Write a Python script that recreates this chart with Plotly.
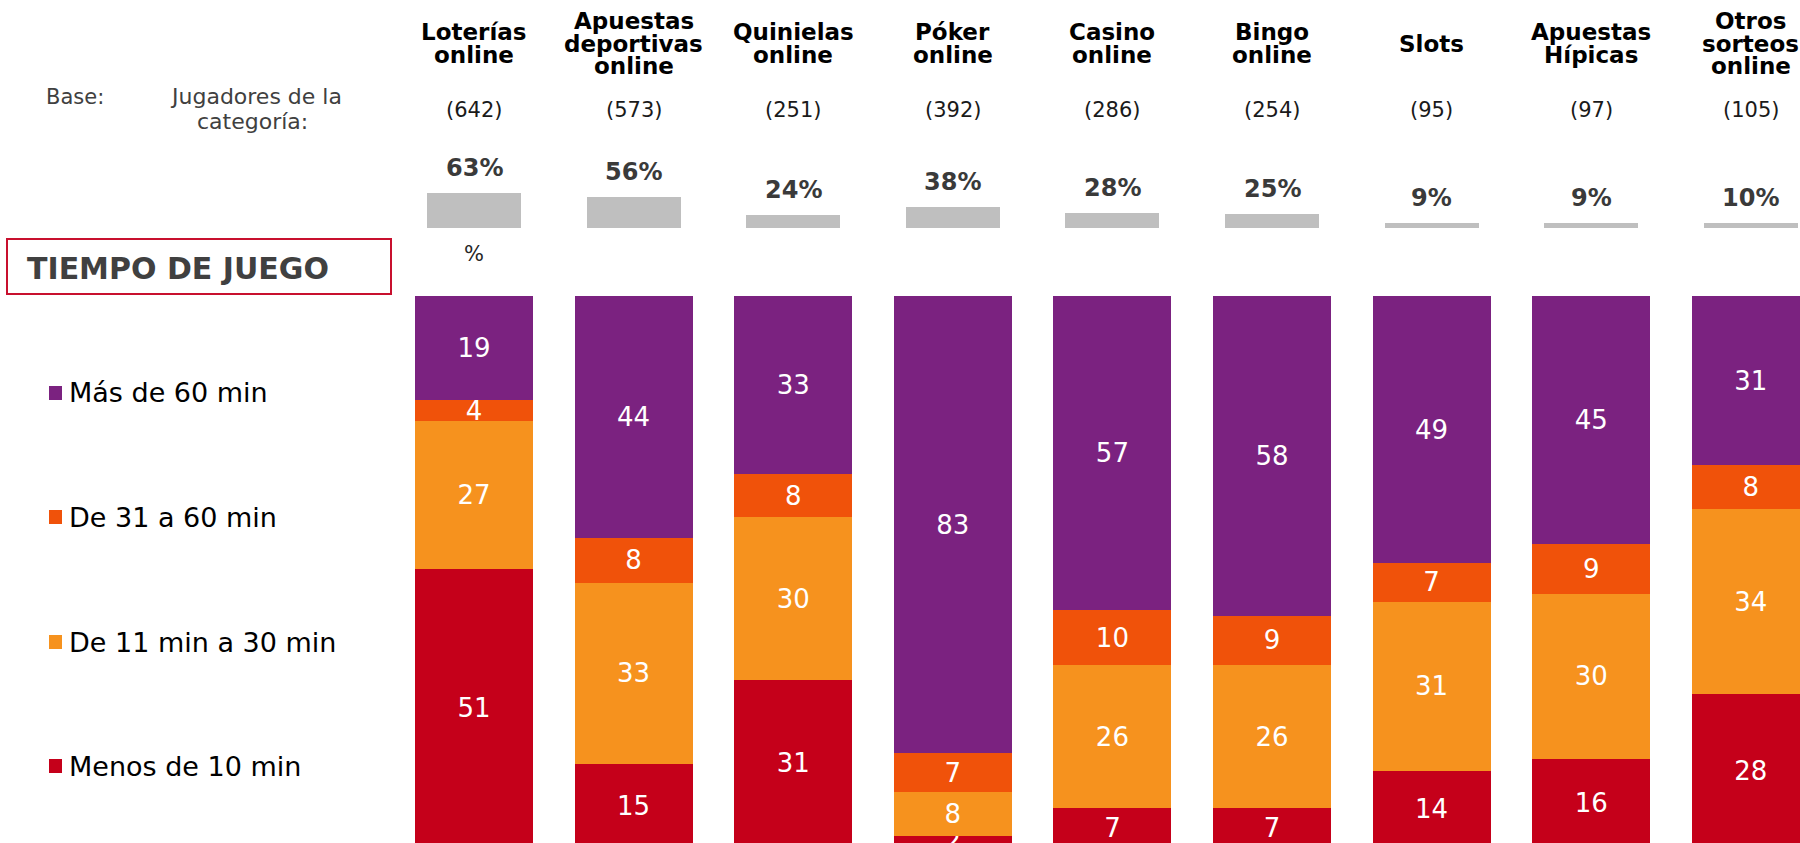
import plotly.graph_objects as go

# ---------------- data ----------------
categories = ["Loterías online", "Apuestas deportivas online", "Quinielas online",
              "Póker online", "Casino online", "Bingo online", "Slots",
              "Apuestas Hípicas", "Otros sorteos online"]
title_labels = ["Loterías<br>online", "Apuestas<br>deportivas<br>online", "Quinielas<br>online",
                "Póker<br>online", "Casino<br>online", "Bingo<br>online", "Slots",
                "Apuestas<br>Hípicas", "Otros<br>sorteos<br>online"]
bases = [642, 573, 251, 392, 286, 254, 95, 97, 105]
penetration = [63, 56, 24, 38, 28, 25, 9, 9, 10]

menos_10 = [51, 15, 31, 2, 7, 7, 14, 16, 28]
de_11_30 = [27, 33, 30, 8, 26, 26, 31, 30, 34]
de_31_60 = [4, 8, 8, 7, 10, 9, 7, 9, 8]
mas_60 = [19, 44, 33, 83, 57, 58, 49, 45, 31]

series_names = ["Menos de 10 min", "De 11 min a 30 min", "De 31 a 60 min", "Más de 60 min"]
series_values = [menos_10, de_11_30, de_31_60, mas_60]
series_colors = ["#C5001A", "#F6921E", "#F0520A", "#7B2280"]

# ---------------- layout constants ----------------
W, H = 1800, 843
X0, PITCH = 474.0, 159.6          # px centre of first bar, spacing
BAR_W, GRAY_W = 118 / PITCH, 94 / PITCH
MAIN_TOP, MAIN_SCALE = 296.0, 5.51  # px of 100%, px per %
GRAY_BASE, GRAY_SCALE = 228.0, 0.55

FONT = "DejaVu Sans"

def py(p):  # pixel-from-top -> paper
    return 1 - p / H

def px(p):
    return p / W

totals = [sum(v) for v in zip(*series_values)]

fig = go.Figure()

for name, vals, col in zip(series_names, series_values, series_colors):
    norm = [v / t * 100 for v, t in zip(vals, totals)]
    fig.add_trace(go.Bar(
        x=categories, y=norm, name=name, width=BAR_W,
        marker=dict(color=col, line=dict(width=0)),
        text=[str(v) for v in vals], texttemplate="%{text}",
        textposition="inside", insidetextanchor="middle", textangle=0,
        constraintext="none",
        textfont=dict(family=FONT, size=26, color="white"),
        hoverinfo="skip", showlegend=False,
    ))

fig.add_trace(go.Bar(
    x=categories, y=penetration, width=GRAY_W, yaxis="y2",
    marker=dict(color="#BFBFBF", line=dict(width=0)),
    hoverinfo="skip", showlegend=False,
))

annotations = []
# penetration labels
for c, p in zip(categories, penetration):
    annotations.append(dict(x=c, y=p, xref="x", yref="y2", yanchor="bottom",
                            yshift=9, text=f"<b>{p}%</b>", showarrow=False,
                            font=dict(family=FONT, size=24, color="#3A3A3A")))
# category titles, line by line
for c, t in zip(categories, title_labels):
    lines = t.split("<br>")
    n = len(lines)
    for j, ln in enumerate(lines):
        yc = 43.5 + (j - (n - 1) / 2) * 22.5
        annotations.append(dict(x=c, y=py(yc), xref="x", yref="paper", yanchor="middle",
                                text=f"<b>{ln}</b>", showarrow=False,
                                font=dict(family=FONT, size=23, color="#000000")))
# bases
for c, b in zip(categories, bases):
    annotations.append(dict(x=c, y=py(110), xref="x", yref="paper", yanchor="middle",
                            text=f"({b})", showarrow=False,
                            font=dict(family=FONT, size=21, color="#1A1A1A")))

annotations += [
    dict(x=px(44), y=py(97), xref="paper", yref="paper", xanchor="left", yanchor="middle",
         text="Base:", showarrow=False, font=dict(family=FONT, size=21, color="#404040")),
    dict(x=px(256), y=py(97), xref="paper", yref="paper", xanchor="center", yanchor="middle",
         text="Jugadores de la", showarrow=False, font=dict(family=FONT, size=22, color="#404040")),
    dict(x=px(252), y=py(122), xref="paper", yref="paper", xanchor="center", yanchor="middle",
         text="categoría:", showarrow=False, font=dict(family=FONT, size=22, color="#404040")),
    dict(x=categories[0], y=py(254), xref="x", yref="paper", xanchor="center", yanchor="middle",
         text="%", showarrow=False, font=dict(family=FONT, size=21, color="#262626")),
    dict(x=px(25), y=py(268), xref="paper", yref="paper", xanchor="left", yanchor="middle",
         text="<b>TIEMPO DE JUEGO</b>", showarrow=False,
         font=dict(family=FONT, size=30, color="#404040")),
]

shapes = [dict(type="rect", xref="paper", yref="paper", x0=px(7), x1=px(391),
               y0=py(294), y1=py(239), line=dict(color="#C8102E", width=2),
               fillcolor="rgba(0,0,0,0)")]

# legend on the left (top item = top of stack)
legend_y = [393, 517, 642, 766]
for yc, name, col in zip(legend_y, series_names[::-1], series_colors[::-1]):
    shapes.append(dict(type="rect", xref="paper", yref="paper", x0=px(49), x1=px(62),
                       y0=py(yc + 7), y1=py(yc - 7), line=dict(width=0), fillcolor=col))
    annotations.append(dict(x=px(67), y=py(yc), xref="paper", yref="paper",
                            xanchor="left", yanchor="middle", text=name, showarrow=False,
                            font=dict(family=FONT, size=27, color="#000000")))

# axis ranges so that 100 % sits at MAIN_TOP and 0 % at MAIN_TOP + 100*MAIN_SCALE
main_r0 = (MAIN_TOP + 100 * MAIN_SCALE - H) / MAIN_SCALE
main_r1 = main_r0 + H / MAIN_SCALE
gray_r0 = -(H - GRAY_BASE) / GRAY_SCALE
gray_r1 = gray_r0 + H / GRAY_SCALE

fig.update_layout(
    width=W, height=H, barmode="stack",
    margin=dict(l=0, r=0, t=0, b=0),
    paper_bgcolor="white", plot_bgcolor="white",
    xaxis=dict(domain=[0, 1], range=[-X0 / PITCH, (W - X0) / PITCH],
               showticklabels=False, showgrid=False, zeroline=False, showline=False,
               ticks="", fixedrange=True),
    yaxis=dict(domain=[0, 1], range=[main_r0, main_r1], visible=False, fixedrange=True),
    yaxis2=dict(domain=[0, 1], range=[gray_r0, gray_r1], overlaying="y", visible=False,
                fixedrange=True),
    annotations=annotations, shapes=shapes,
    showlegend=False,
)

fig.write_html("out.html", config={"displayModeBar": False},
               post_script="document.body.style.margin='0';document.body.style.overflow='hidden';")
